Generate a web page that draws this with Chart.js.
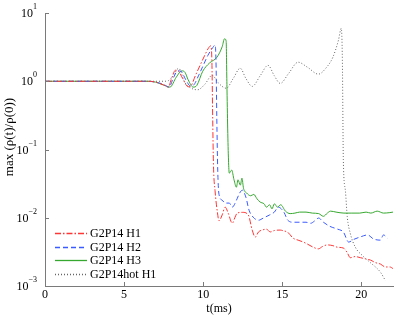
<!DOCTYPE html>
<html>
<head>
<meta charset="utf-8">
<script src="https://cdn.jsdelivr.net/npm/chart.js@4/dist/chart.umd.min.js"></script>
<style>
html,body{margin:0;padding:0;background:#fff;}
#c{display:block;}
</style>
</head>
<body>
<canvas id="c" width="399" height="318"></canvas>
<script>
// ---- data ----
const seriesLabels = ["G2P14 H1", "G2P14 H2", "G2P14 H3", "G2P14hot H1"];

const t_H1 = [0, 6.5, 7.0, 7.5, 7.8, 8.0, 8.25, 8.45, 8.7, 9.05, 9.25, 9.5, 9.8, 10.1, 10.35, 10.48, 10.55, 10.6, 10.65, 10.75, 10.9, 11.0, 11.2, 11.39, 11.58, 11.84, 12.0, 12.15, 12.5, 12.85, 13.1, 13.29, 13.5, 13.73, 14.0, 14.24, 14.5, 14.87, 15.1, 15.32, 15.7, 16.0, 16.33, 16.6, 16.96, 17.28, 17.55, 17.85, 18.2, 18.48, 18.86, 19.1, 19.3, 19.6, 19.94, 20.25, 20.57, 20.89, 21.2, 21.52, 21.8, 22];
const v_H1 = [1, 1, 0.97, 0.88, 0.82, 1.1, 1.45, 1.4, 1.1, 0.83, 0.87, 1.2, 1.7, 2.4, 3.1, 3.3, 2.0, 0.3, 0.06, 0.025, 0.012, 0.009, 0.011, 0.0143, 0.0117, 0.0083, 0.01, 0.0117, 0.012, 0.011, 0.0066, 0.0052, 0.0062, 0.0066, 0.0068, 0.0062, 0.0065, 0.0066, 0.0064, 0.0062, 0.005, 0.0047, 0.0044, 0.0041, 0.0037, 0.0035, 0.0038, 0.004, 0.0039, 0.0037, 0.0036, 0.0031, 0.0026, 0.0027, 0.0026, 0.0025, 0.0024, 0.0022, 0.0021, 0.0019, 0.0019, 0.0018];

const t_H2 = [0, 6.5, 7.0, 7.5, 7.85, 8.1, 8.4, 8.6, 8.9, 9.2, 9.4, 9.7, 10.0, 10.3, 10.6, 10.76, 10.82, 10.86, 10.92, 11.0, 11.2, 11.39, 11.65, 11.84, 12.1, 12.3, 12.47, 12.7, 12.9, 13.16, 13.5, 13.8, 14.2, 14.5, 14.75, 15.1, 15.35, 15.7, 16.1, 16.5, 16.8, 17.05, 17.3, 17.6, 18.0, 18.5, 18.86, 19.2, 19.5, 19.9, 20.4, 20.76, 21.2, 21.4, 21.65];
const v_H2 = [1, 1, 0.97, 0.9, 0.82, 1.1, 1.42, 1.4, 1.05, 0.85, 0.88, 1.2, 1.7, 2.4, 3.1, 3.4, 1.5, 0.3, 0.05, 0.022, 0.0181, 0.0164, 0.0164, 0.0143, 0.018, 0.0229, 0.0253, 0.02, 0.0129, 0.0102, 0.0092, 0.0099, 0.011, 0.0121, 0.0143, 0.0121, 0.0092, 0.0086, 0.0086, 0.0086, 0.0083, 0.009, 0.0099, 0.0086, 0.0075, 0.0068, 0.0062, 0.0044, 0.0048, 0.0052, 0.0056, 0.0049, 0.0047, 0.0056, 0.005];

const t_H3 = [0, 6.5, 7.0, 7.5, 7.9, 8.3, 8.65, 8.85, 9.05, 9.37, 9.6, 9.97, 10.4, 10.87, 11.2, 11.35, 11.45, 11.5, 11.55, 11.6, 11.65, 11.8, 11.95, 12.1, 12.2, 12.35, 12.45, 12.55, 12.75, 13.0, 13.2, 13.4, 13.6, 13.85, 14.0, 14.2, 14.35, 14.5, 14.7, 14.9, 15.2, 15.5, 15.8, 16.1, 16.5, 16.9, 17.3, 17.6, 17.85, 18.05, 18.4, 18.9, 19.4, 19.9, 20.3, 20.6, 21.0, 21.4, 21.8, 22];
const v_H3 = [1, 1, 0.97, 0.88, 0.82, 1.15, 1.42, 1.35, 1.05, 0.82, 0.87, 1.4, 1.85, 2.25, 3.2, 4.2, 3.9, 0.9, 0.2, 0.07, 0.045, 0.05, 0.036, 0.028, 0.036, 0.03, 0.038, 0.027, 0.023, 0.021, 0.022, 0.019, 0.017, 0.016, 0.0143, 0.0155, 0.0135, 0.016, 0.0143, 0.0155, 0.0125, 0.0115, 0.0117, 0.0121, 0.0121, 0.0117, 0.0115, 0.0105, 0.0117, 0.0125, 0.0121, 0.0117, 0.0117, 0.0117, 0.0121, 0.0117, 0.0125, 0.0117, 0.0119, 0.0121];

const t_hot = [0, 7.5, 7.8, 8.1, 8.45, 8.85, 9.3, 9.65, 10.1, 10.57, 10.95, 11.46, 11.9, 12.34, 12.7, 13.1, 13.6, 14.1, 14.5, 14.87, 15.4, 16.0, 16.6, 17.28, 17.8, 18.2, 18.55, 18.73, 18.8, 18.86, 18.99, 19.11, 19.3, 19.62, 20.06, 20.57, 21.2, 21.52];
const v_hot = [1, 1, 1.02, 1.2, 1.55, 0.95, 0.78, 0.75, 0.9, 1.22, 0.95, 0.79, 1.1, 1.55, 1.1, 0.84, 1.2, 1.71, 1.2, 0.93, 1.3, 1.9, 1.6, 1.27, 1.6, 2.25, 3.98, 5.96, 2.0, 0.07, 0.025, 0.0102, 0.0059, 0.0037, 0.0028, 0.0022, 0.0016, 0.0012];

const xTicks = [0, 5, 10, 15, 20];
const yTicks = [0.001, 0.01, 0.1, 1, 10];
const yTickExp = ["\u22123", "\u22122", "\u22121", "0", "1"];

// ---- styles ----
const seriesColors = ['#ff3535', '#3b5bff', '#36a82f', '#666666'];
const seriesDashes = [[6, 2, 1.5, 2], [5, 3], [], [1, 2]];

function pts(t, v) { return t.map((x, i) => ({x: x, y: v[i]})); }

const SERIF = "'Liberation Serif', 'Times New Roman', serif";

const datasets = [
  {label: seriesLabels[0], data: pts(t_H1, v_H1)},
  {label: seriesLabels[1], data: pts(t_H2, v_H2)},
  {label: seriesLabels[2], data: pts(t_H3, v_H3)},
  {label: seriesLabels[3], data: pts(t_hot, v_hot)}
].map((d, i) => Object.assign(d, {borderColor: seriesColors[i], borderDash: seriesDashes[i], borderWidth: 1, pointRadius: 0, cubicInterpolationMode: 'monotone', fill: false}));

const axisDecor = {
  id: 'axisDecor',
  afterDraw(chart) {
    const ctx = chart.ctx;
    const xs = chart.scales.x, ys = chart.scales.y;
    const a = chart.chartArea;
    ctx.save();
    // inward ticks
    ctx.strokeStyle = '#7a7a7a';
    ctx.lineWidth = 1;
    ctx.beginPath();
    xTicks.forEach(v => {
      const px = Math.round(xs.getPixelForValue(v)) + 0.5;
      ctx.moveTo(px, a.bottom); ctx.lineTo(px, a.bottom - 4);
    });
    yTicks.forEach(v => {
      const py = Math.round(ys.getPixelForValue(v)) + 0.5;
      ctx.moveTo(a.left, py); ctx.lineTo(a.left + 4, py);
    });
    ctx.stroke();
    // y tick labels: 10 with superscript exponent
    ctx.fillStyle = '#000';
    ctx.textBaseline = 'middle';
    yTicks.forEach((v, i) => {
      const py = ys.getPixelForValue(v);
      ctx.font = '8px ' + SERIF;
      const ew = ctx.measureText(yTickExp[i]).width;
      const right = a.left - 8;
      ctx.textAlign = 'left';
      ctx.fillText(yTickExp[i], right - ew, py - 6);
      ctx.font = '12px ' + SERIF;
      ctx.textAlign = 'right';
      ctx.fillText('10', right - ew, py + 1);
    });
    // y title
    ctx.save();
    ctx.translate(10, 137);
    ctx.rotate(-Math.PI / 2);
    ctx.textAlign = 'center';
    ctx.textBaseline = 'middle';
    ctx.font = '13px ' + SERIF;
    ctx.fillText('max (\u03c1(t)/\u03c1(0))', 0, 0);
    ctx.restore();
    // legend inside the plot, bottom-left
    const rowY = [233, 246.5, 260, 273.5];
    seriesLabels.forEach((label, i) => {
      const y = Math.round(rowY[i]) + 0.5;
      ctx.strokeStyle = seriesColors[i];
      ctx.lineWidth = 1.3;
      ctx.setLineDash(seriesDashes[i]);
      ctx.beginPath();
      ctx.moveTo(55, y); ctx.lineTo(87, y);
      ctx.stroke();
      ctx.setLineDash([]);
      ctx.font = '12px ' + SERIF;
      ctx.textAlign = 'left';
      ctx.textBaseline = 'middle';
      ctx.fillStyle = '#000';
      ctx.fillText(label, 90, rowY[i] + 1);
    });
    ctx.restore();
  }
};

new Chart(document.getElementById('c'), {
  type: 'line',
  data: {datasets: datasets},
  options: {
    responsive: false,
    animation: false,
    devicePixelRatio: 1,
    layout: {padding: {top: 13, right: 6, left: 0, bottom: 0}},
    plugins: {legend: {display: false}, tooltip: {enabled: false}},
    scales: {
      x: {
        type: 'linear',
        min: 0, max: 22,
        grid: {display: false, drawTicks: false},
        border: {display: true, color: '#7a7a7a', width: 1},
        ticks: {stepSize: 5, color: '#000', font: {family: SERIF, size: 12}, padding: 2, maxRotation: 0},
        afterBuildTicks(s) { s.ticks = xTicks.map(v => ({value: v})); },
        afterFit(s) { s.height = 32; },
        title: {display: true, text: 't(ms)', color: '#000', font: {family: SERIF, size: 12}, padding: {top: 0, bottom: 2}}
      },
      y: {
        type: 'logarithmic',
        min: 0.001, max: 10,
        grid: {display: false, drawTicks: false},
        border: {display: true, color: '#7a7a7a', width: 1},
        ticks: {display: false},
        afterBuildTicks(s) { s.ticks = yTicks.map(v => ({value: v})); },
        afterFit(s) { s.width = 45; }
      }
    }
  },
  plugins: [axisDecor]
});
</script>
</body>
</html>
